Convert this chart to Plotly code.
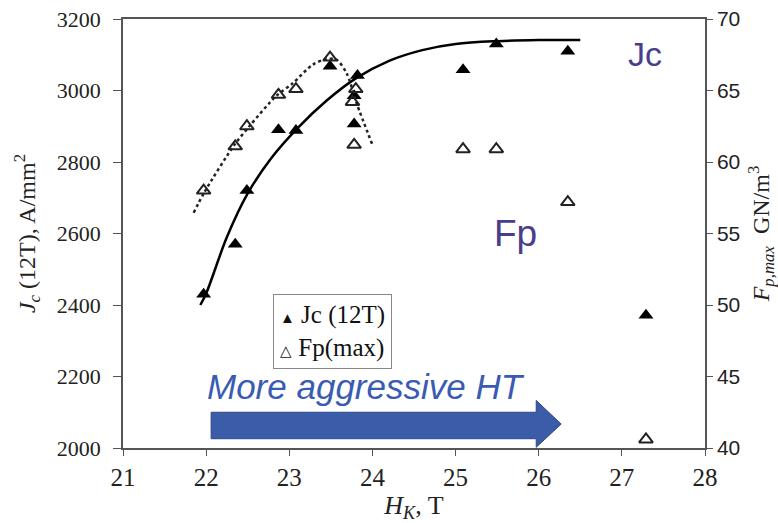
import plotly.graph_objects as go

# ---- data ----
hk_jc = [21.97, 22.35, 22.49, 22.87, 23.08, 23.49, 23.78, 23.78, 23.82, 25.09, 25.49, 26.35, 27.29]
jc_12t = [2430, 2570, 2720, 2890, 2888, 3068, 2985, 2906, 3042, 3058, 3130, 3110, 2371]

hk_fp = [21.97, 22.35, 22.49, 22.87, 23.08, 23.49, 23.80, 23.76, 23.78, 25.09, 25.49, 26.35, 27.29]
fp_max = [58.0, 61.1, 62.5, 64.7, 65.1, 67.3, 65.1, 64.2, 61.2, 60.9, 60.9, 57.2, 40.6]

# trend curves
jc_fit_hk = [21.93, 22.0, 22.25, 22.5, 22.78, 23.1, 23.45, 23.8, 24.2, 24.6, 25.0, 25.5, 26.0, 26.5]
jc_fit = [2400, 2432, 2590, 2712, 2810, 2895, 2972, 3034, 3083, 3113, 3130, 3138, 3141, 3141]

fp_fit_hk = [21.85, 21.98, 22.34, 22.52, 22.84, 23.04, 23.28, 23.45, 23.57, 23.69, 23.81, 24.0]
fp_fit = [56.45, 57.9, 61.2, 62.5, 64.6, 65.5, 66.8, 67.2, 67.15, 66.2, 64.1, 61.2]

x_ticks = [21, 22, 23, 24, 25, 26, 27, 28]
jc_ticks = [2000, 2200, 2400, 2600, 2800, 3000, 3200]
fp_ticks = [40, 45, 50, 55, 60, 65, 70]

legend_symbols = ["\u25B2", "\u25B3"]
legend_labels = ["Jc (12T)", "Fp(max)"]

SERIF = "Liberation Serif"
SANS = "Liberation Sans"

fig = go.Figure()

fig.add_trace(go.Scatter(
    x=jc_fit_hk, y=jc_fit, mode="lines", line=dict(color="black", width=2.5, shape="spline", smoothing=1.0),
    showlegend=False, hoverinfo="skip"))
fig.add_trace(go.Scatter(
    x=fp_fit_hk, y=fp_fit, mode="lines", yaxis="y2",
    line=dict(color="#222", width=2.5, dash="dot", shape="spline", smoothing=0.8),
    showlegend=False, hoverinfo="skip"))

fig.add_trace(go.Scatter(
    x=hk_fp, y=fp_max, mode="markers", yaxis="y2", name="Fp(max)", showlegend=False,
    marker=dict(symbol="triangle-up-open", size=12, color="#222", line=dict(width=2, color="#222"))))
fig.add_trace(go.Scatter(
    x=hk_jc, y=jc_12t, mode="markers", name="Jc (12T)", showlegend=False,
    marker=dict(symbol="triangle-up", size=13, color="black")))

# blue arrow
fig.add_shape(type="path",
              path="M 22.06,2026 L 22.06,2100 L 25.97,2100 L 25.97,2133 L 26.27,2067 L 25.97,2002 L 25.97,2026 Z",
              xref="x", yref="y", fillcolor="#3b5ca8", line=dict(color="#2d4788", width=1), layer="above")

fig.add_annotation(x=21.99, y=2172, xref="x", yref="y", text="<i>More aggressive HT</i>",
                   showarrow=False, xanchor="left", yanchor="middle",
                   font=dict(family=SANS, size=35, color="#3a5bb3"))
fig.add_annotation(x=27.28, y=3103, xref="x", yref="y", text="Jc", showarrow=False,
                   font=dict(family=SANS, size=34, color="#4a3d8c"))
fig.add_annotation(x=25.72, y=2600, xref="x", yref="y", text="Fp", showarrow=False,
                   font=dict(family=SANS, size=37, color="#4a3d8c"))

# legend box
legend_text = "<br>".join(
    f"<span style='font-size:15px'>{s}</span> {t}" for s, t in zip(legend_symbols, legend_labels))
fig.add_annotation(x=0.257, y=0.358, xref="paper", yref="paper", xanchor="left", yanchor="top",
                   text=legend_text, align="left", showarrow=False,
                   bgcolor="white", bordercolor="#888", borderwidth=1, borderpad=6,
                   font=dict(family=SERIF, size=25, color="#111"))

ax_common = dict(showline=True, linecolor="#555", linewidth=1.5, showgrid=False, zeroline=False,
                 ticks="outside", tickcolor="#555", automargin=False)

fig.update_layout(
    width=778, height=523,
    margin=dict(l=123, r=73, t=19, b=75, autoexpand=False),
    paper_bgcolor="white", plot_bgcolor="white",
    showlegend=False,
    xaxis=dict(range=[21, 28], tickvals=x_ticks, ticklen=6, mirror=True,
               tickfont=dict(family=SERIF, size=25, color="#222"),
               title=dict(text="<i>H<sub>K</sub></i>, T", font=dict(family=SERIF, size=26, color="#222"), standoff=6),
               **ax_common),
    yaxis=dict(range=[2000, 3200], tickvals=jc_ticks, ticklen=8,
               tickfont=dict(family=SERIF, size=22, color="#222"), ticklabelstandoff=8,
               title=dict(text="<i>J<sub>c</sub></i> (12T), A/mm<sup>2</sup>",
                          font=dict(family=SERIF, size=24, color="#222"), standoff=14),
               **ax_common),
    yaxis2=dict(range=[40, 70], tickvals=fp_ticks, overlaying="y", side="right", ticklen=6,
                tickfont=dict(family=SANS, size=21, color="#222"),
                title=dict(text="<i>F<sub>p,max</sub></i>  GN/m<sup>3</sup>",
                           font=dict(family=SERIF, size=24, color="#222"), standoff=14),
                **ax_common),
)

fig.write_html("out.html", config={"displayModeBar": False},
               post_script="document.body.style.margin='0';document.body.style.padding='0';")
